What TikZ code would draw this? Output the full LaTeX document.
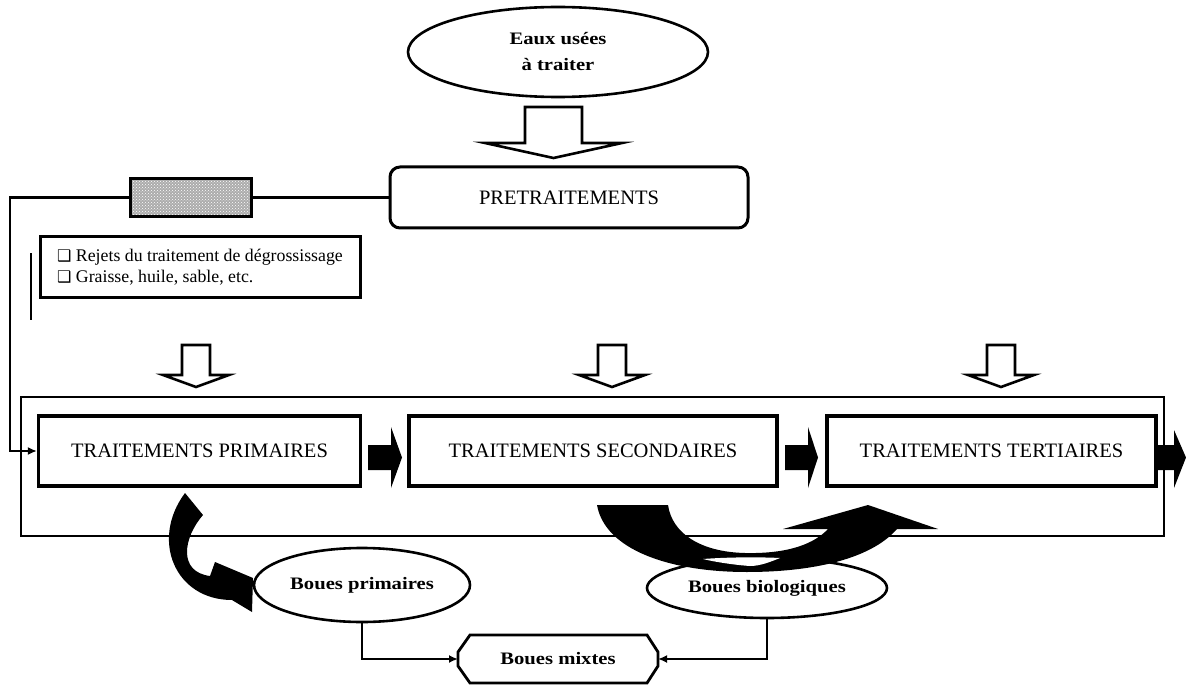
\documentclass[tikz,border=0pt]{standalone}
\usepackage{fontspec}
\setmainfont{Liberation Serif}
\newfontfamily\wideserif{Liberation Serif}[FakeStretch=1.18]
\newfontfamily\symfont{DejaVu Sans}
\usetikzlibrary{shapes.geometric,patterns,arrows.meta,calc}
\begin{document}
\begin{tikzpicture}[x=1pt,y=-1pt,
  box/.style={draw,line width=3.2pt,rectangle,inner sep=0pt},
  lbl/.style={font=\fontsize{20.5}{24}\selectfont},
  blbl/.style={font=\wideserif\bfseries\fontsize{17.5}{26}\selectfont},
  oval/.style={draw,line width=2.6pt,ellipse,fill=white,inner sep=0pt},
  conn/.style={line width=2.6pt},
  tip/.style={-{Latex[length=9pt,width=8pt]}},
  hol/.style={draw,line width=2.6pt,fill=white,line join=miter},
  hdown/.pic={\draw[hol] (-14,0) -- (14,0) -- (14,30) -- (33,30) -- (0,42) -- (-33,30) -- (-14,30) -- cycle;}
]
\useasboundingbox (0,0) rectangle (1186,687);

% frame around the treatments
\node[draw,line width=2.6pt,minimum width=1143pt,minimum height=139pt,inner sep=0pt] (stage) at (592.5,466.5) {};

% top
\node[oval,minimum width=300pt,minimum height=90pt,blbl,align=center] (eaux) at (558,52) {Eaux usées\\à traiter};
\draw[hol] (525,107) -- (582,107) -- (582,143) -- (622,143) -- (553.5,158) -- (485,143) -- (525,143) -- cycle;
\node[draw,line width=3pt,rounded corners=10pt,minimum width=358pt,minimum height=61pt,lbl] (pre) at (569,197.5) {PRETRAITEMENTS};

% screen / filter
\node[draw,line width=3pt,minimum width=121pt,minimum height=38pt,inner sep=0pt,
      preaction={fill=gray!65},pattern=crosshatch dots,pattern color=white] (filt) at (190.5,197.5) {};
\coordinate (lcorner) at (10,197.5);
\draw[conn] (pre.west) -- (filt.east);

% rejects box
\node[draw,line width=3pt,minimum width=320pt,minimum height=60pt,align=left,
      font=\fontsize{17.8}{21.5}\selectfont] (rej) at (200,267)
  {{\symfont\fontsize{16}{16}\selectfont ❑} Rejets du traitement de dégrossissage\\
   {\symfont\fontsize{16}{16}\selectfont ❑} Graisse, huile, sable, etc.};
\draw[conn] (31,253) -- (31,320);

% hollow arrows
\pic at (196,345) {hdown};
\pic at (612,345) {hdown};
\pic at (1001,345) {hdown};

% treatment boxes
\node[box,minimum width=322pt,minimum height=70pt,lbl] (tp) at (199.5,451) {TRAITEMENTS PRIMAIRES};
\node[box,minimum width=368pt,minimum height=70pt,lbl] (ts) at (593,451) {TRAITEMENTS SECONDAIRES};
\node[box,minimum width=329pt,minimum height=70pt,lbl] (tt) at (991.5,451) {TRAITEMENTS TERTIAIRES};

\draw[conn,tip] (filt.west) -- (lcorner) |- (tp.west);

% black block arrows
\fill (368,445) -- (391,445) -- (391,427) -- (402,457.5) -- (391,488) -- (391,470) -- (368,470) -- cycle;
\fill (785,445) -- (808,445) -- (808,427) -- (818,457.5) -- (808,488) -- (808,470) -- (785,470) -- cycle;
\fill (1157,445) -- (1174,445) -- (1174,430) -- (1186,457.5) -- (1174,488) -- (1174,470) -- (1157,470) -- cycle;

% sludge nodes
\node[oval,minimum width=216pt,minimum height=74pt,blbl] (bp) at (362,585) {Boues primaires};
\node[oval,minimum width=240pt,minimum height=60pt,blbl] (bb) at (767,588) {Boues biologiques};
\node[minimum width=200pt,minimum height=48pt,inner sep=0pt,outer sep=0pt,blbl] (mix) at (558,659) {Boues mixtes};
\draw[line width=2.8pt,line join=miter] (470,635) -- (647,635) -- (658,652) -- (658,666) -- (647,683) -- (470,683) -- (458,666) -- (458,652) -- cycle;

\draw[conn,tip] (bp.south) |- (mix.west);
\draw[conn,tip] (bb.south) |- (mix.east);

% curved arrow: primary sludge
\fill (185,493) -- (203,515) .. controls (183,538) and (178,572) .. (210,576) -- (215,562) -- (253,578) -- (252,612) -- (232,600) .. controls (175,600) and (150,540) .. (185,493) -- cycle;

% curved arrow: biological sludge (recirculation)
\fill (597,505) -- (668,505) .. controls (672,533) and (700,552) .. (745,553)
      .. controls (790,554) and (815,543) .. (828,529) -- (783,529) -- (868,505) -- (938,529) -- (897,529)
      .. controls (870,560) and (810,572) .. (747,572) .. controls (670,572) and (605,550) .. (597,505) -- cycle;
\fill[white] (703,559) .. controls (730,557) and (760,557) .. (780,558) .. controls (770,562) and (760,566) .. (750,566) .. controls (735,565) and (715,562) .. (703,559) -- cycle;
\end{tikzpicture}
\end{document}
